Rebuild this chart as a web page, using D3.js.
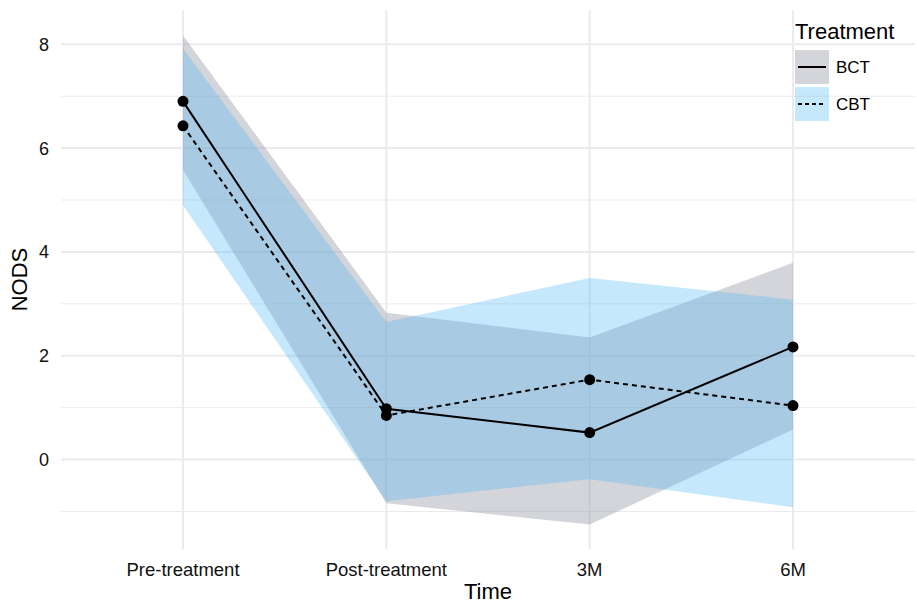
<!DOCTYPE html>
<html>
<head>
<meta charset="utf-8">
<script src="https://cdn.jsdelivr.net/npm/d3@7"></script>
<style>
body{margin:0;background:#fff;}
svg text{font-family:"Liberation Sans",Arial,sans-serif;}
</style>
</head>
<body>
<svg id="canvas" width="917" height="605"></svg>
<script>
let times=["Pre-treatment","Post-treatment","3M","6M"];
let groups=["BCT","CBT"];
let bctMean=[6.90,0.98,0.52,2.17];
let bctLow=[5.58,-0.84,-1.25,0.58];
let bctHigh=[8.17,2.83,2.35,3.79];
let cbtMean=[6.43,0.85,1.54,1.04];
let cbtLow=[4.90,-0.80,-0.38,-0.92];
let cbtHigh=[7.92,2.65,3.50,3.08];
let yTicks=[0,2,4,6,8];
let yMinor=[-1,1,3,5,7];

let canvas=d3.select("#canvas");
let pLeft=61,pRight=915,pTop=10,pBottom=549;

// discrete axis, ggplot style expansion of 0.6 each side
let xScale=d3.scalePoint().domain(times).range([pLeft+(pRight-pLeft)*0.6/4.2,pRight-(pRight-pLeft)*0.6/4.2]);
let yScale=d3.scaleLinear().domain([-1.722,8.66]).range([pBottom,pTop]);

// grid
canvas.selectAll(".minor").data(yMinor).enter().append("line")
  .attr("x1",pLeft).attr("x2",pRight).attr("y1",d=>yScale(d)).attr("y2",d=>yScale(d))
  .attr("stroke","#ebebeb").attr("stroke-width",1);
canvas.selectAll(".major").data(yTicks).enter().append("line")
  .attr("x1",pLeft).attr("x2",pRight).attr("y1",d=>yScale(d)).attr("y2",d=>yScale(d))
  .attr("stroke","#ebebeb").attr("stroke-width",2);
canvas.selectAll(".vgrid").data(times).enter().append("line")
  .attr("x1",d=>xScale(d)).attr("x2",d=>xScale(d)).attr("y1",pTop).attr("y2",pBottom)
  .attr("stroke","#ebebeb").attr("stroke-width",2);

let series=[
  {name:"BCT",mean:bctMean,low:bctLow,high:bctHigh,fill:"#9196a2",op:0.4,dash:null},
  {name:"CBT",mean:cbtMean,low:cbtLow,high:cbtHigh,fill:"#4db7f6",op:0.32,dash:"5,4"}
];

let area=d3.area().x((d,i)=>xScale(times[i])).y0(d=>yScale(d[0])).y1(d=>yScale(d[1]));
series.forEach(s=>{
  canvas.append("path").datum(s.low.map((v,i)=>[v,s.high[i]]))
    .attr("d",area).attr("fill",s.fill).attr("fill-opacity",s.op);
});

let line=d3.line().x((d,i)=>xScale(times[i])).y(d=>yScale(d));
series.forEach(s=>{
  canvas.append("path").datum(s.mean).attr("d",line).attr("fill","none")
    .attr("stroke","#000").attr("stroke-width",2).attr("stroke-dasharray",s.dash);
  canvas.selectAll(".pt"+s.name).data(s.mean).enter().append("circle")
    .attr("cx",(d,i)=>xScale(times[i])).attr("cy",d=>yScale(d)).attr("r",5.5).attr("fill","#000");
});

// axis labels
canvas.selectAll(".ylab").data(yTicks).enter().append("text")
  .attr("x",49).attr("y",d=>yScale(d)+6.5).attr("text-anchor","end")
  .style("font-size","18px").attr("fill","#111").text(d=>d);
canvas.selectAll(".xlab").data(times).enter().append("text")
  .attr("x",d=>xScale(d)).attr("y",576).attr("text-anchor","middle")
  .style("font-size","18.5px").attr("fill","#111").text(d=>d);
canvas.append("text").attr("x",(pLeft+pRight)/2).attr("y",599).attr("text-anchor","middle")
  .style("font-size","22px").text("Time");
canvas.append("text").attr("transform","translate(27,"+((pTop+pBottom)/2)+") rotate(-90)")
  .attr("text-anchor","middle").style("font-size","22px").text("NODS");

// legend
let lg=canvas.append("g").attr("transform","translate(795,0)");
lg.append("text").attr("x",0).attr("y",39).style("font-size","22px").text("Treatment");
series.forEach((s,i)=>{
  let y0=50+i*37;
  lg.append("rect").attr("x",0).attr("y",y0).attr("width",34).attr("height",34)
    .attr("fill",s.fill).attr("fill-opacity",s.op);
  lg.append("line").attr("x1",3).attr("x2",31).attr("y1",y0+17).attr("y2",y0+17)
    .attr("stroke","#000").attr("stroke-width",2).attr("stroke-dasharray",s.dash?"4,3":null);
  lg.append("text").attr("x",41).attr("y",y0+23).style("font-size","17px").text(s.name);
});
</script>
</body>
</html>
